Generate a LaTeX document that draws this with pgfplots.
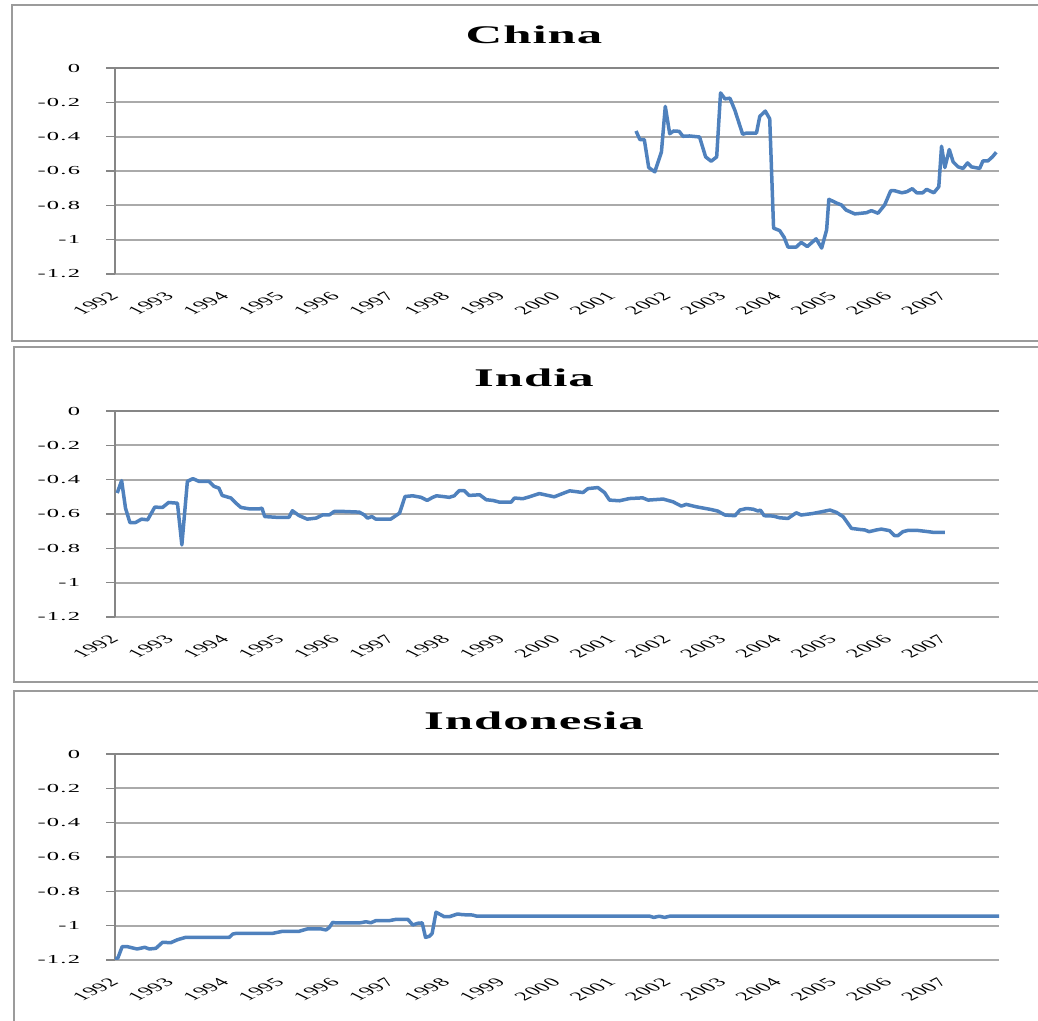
\documentclass[border=0pt]{standalone}
\usepackage{fontspec}
\setmainfont{Liberation Serif}
\newfontfamily\tickfont[LetterSpace=5]{Liberation Serif}
\newfontfamily\ytickfont[FakeStretch=2.0, LetterSpace=10]{Liberation Serif}
\newfontfamily\titlefont[FakeStretch=2.0, LetterSpace=4]{Liberation Serif}
\usepackage{graphicx}
\usepackage{pgfplots}
\pgfplotsset{compat=1.18}
\definecolor{excelblue}{RGB}{79,129,189}
\definecolor{framegray}{RGB}{155,155,155}
\definecolor{axisgray}{RGB}{134,134,134}
\definecolor{gridgray}{RGB}{170,170,170}
\newcommand\sxr[1]{\scalebox{2.0}[1]{\rotatebox{45}{#1}}}
\newcommand\yl[1]{\llap{#1}}

\pgfplotsset{panel/.style={
  scale only axis, width=884bp, height=206bp,
  xmin=1992, xmax=2008, ymin=-1.2, ymax=0,
  axis lines=left, axis line style={-},
  x axis line style={draw=none},
  y axis line style={draw=axisgray, line width=2.5bp},
  xtick={1992,...,2007},
  xticklabels={\sxr{1992},\sxr{1993},\sxr{1994},\sxr{1995},\sxr{1996},\sxr{1997},\sxr{1998},\sxr{1999},\sxr{2000},\sxr{2001},\sxr{2002},\sxr{2003},\sxr{2004},\sxr{2005},\sxr{2006},\sxr{2007}},
  xtick style={draw=none},
  ytick={-1.2,-1,-0.8,-0.6,-0.4,-0.2,0},
  yticklabels={\yl{-1.2},\yl{-1},\yl{-0.8},\yl{-0.6},\yl{-0.4},\yl{-0.2},\yl{0}},
  ytick style={draw=axisgray, line width=1.5bp},
  major tick length=9bp, tick align=outside,
  ymajorgrids, grid style={gridgray, line width=2bp},
  yticklabel style={font=\ytickfont\fontsize{12.3}{14}\selectfont, anchor=center, inner sep=0pt, xshift=-26bp},
  xticklabel style={font=\tickfont\fontsize{12.3}{14}\selectfont, anchor=north east, inner sep=0pt, yshift=-8bp, xshift=5bp},
}}
\tikzset{ser/.style={excelblue, line width=3.5bp, line join=round, no marks}}

\begin{document}
\begin{tikzpicture}
\useasboundingbox (0bp,0bp) rectangle (1038bp,1021bp);
% frames
\draw[framegray, line width=2bp] (12bp,1016bp) rectangle (1050bp,680bp);
\draw[framegray, line width=2bp] (14bp,674bp) rectangle (1050bp,339bp);
\draw[framegray, line width=2bp] (14bp,330bp) rectangle (1050bp,-20bp);
% titles
\node[font=\titlefont\bfseries\fontsize{25.5}{30}\selectfont] at (534bp,986bp) {China};
\node[font=\titlefont\bfseries\fontsize{25.5}{30}\selectfont] at (534bp,643bp) {India};
\node[font=\titlefont\bfseries\fontsize{25.5}{30}\selectfont] at (534bp,300bp) {Indonesia};

\begin{axis}[panel, at={(115bp,747bp)}, anchor=south west]
\draw[axisgray, line width=2.5bp] (axis cs:1992,0) -- (axis cs:2008,0);
\addplot[ser] coordinates {(2001.43,-0.367)(2001.50,-0.417)(2001.58,-0.417)(2001.66,-0.58)(2001.77,-0.605)(2001.89,-0.489)(2001.96,-0.224)(2002.04,-0.383)(2002.11,-0.367)(2002.21,-0.369)(2002.28,-0.398)(2002.40,-0.396)(2002.58,-0.402)(2002.69,-0.518)(2002.79,-0.543)(2002.89,-0.518)(2002.96,-0.145)(2003.04,-0.18)(2003.13,-0.176)(2003.22,-0.247)(2003.36,-0.386)(2003.43,-0.379)(2003.61,-0.379)(2003.67,-0.282)(2003.77,-0.251)(2003.85,-0.296)(2003.92,-0.933)(2004.03,-0.947)(2004.11,-0.986)(2004.18,-1.043)(2004.33,-1.043)(2004.42,-1.016)(2004.53,-1.04)(2004.69,-0.995)(2004.79,-1.049)(2004.88,-0.943)(2004.92,-0.765)(2005.07,-0.788)(2005.15,-0.798)(2005.23,-0.827)(2005.39,-0.85)(2005.60,-0.843)(2005.69,-0.831)(2005.81,-0.846)(2005.93,-0.798)(2006.04,-0.715)(2006.11,-0.715)(2006.24,-0.727)(2006.33,-0.721)(2006.43,-0.703)(2006.51,-0.727)(2006.62,-0.727)(2006.69,-0.707)(2006.82,-0.727)(2006.91,-0.692)(2006.96,-0.456)(2007.02,-0.58)(2007.10,-0.475)(2007.17,-0.547)(2007.26,-0.576)(2007.35,-0.585)(2007.43,-0.553)(2007.50,-0.576)(2007.65,-0.585)(2007.71,-0.541)(2007.80,-0.541)(2007.88,-0.518)(2007.95,-0.491)};
\end{axis}

\begin{axis}[panel, at={(115bp,404bp)}, anchor=south west]
\draw[axisgray, line width=2.5bp] (axis cs:1992,0) -- (axis cs:2008,0);
\addplot[ser] coordinates {(1992.04,-0.478)(1992.12,-0.406)(1992.19,-0.566)(1992.27,-0.650)(1992.37,-0.650)(1992.48,-0.630)(1992.59,-0.634)(1992.72,-0.560)(1992.86,-0.562)(1992.97,-0.533)(1993.13,-0.537)(1993.21,-0.780)(1993.31,-0.410)(1993.41,-0.394)(1993.52,-0.410)(1993.70,-0.410)(1993.79,-0.439)(1993.88,-0.449)(1993.94,-0.492)(1994.10,-0.507)(1994.19,-0.537)(1994.28,-0.562)(1994.43,-0.570)(1994.61,-0.570)(1994.66,-0.566)(1994.71,-0.615)(1994.91,-0.619)(1995.15,-0.619)(1995.21,-0.581)(1995.33,-0.609)(1995.48,-0.630)(1995.64,-0.624)(1995.76,-0.605)(1995.88,-0.605)(1995.97,-0.585)(1996.12,-0.585)(1996.42,-0.589)(1996.51,-0.605)(1996.57,-0.624)(1996.65,-0.615)(1996.72,-0.630)(1996.99,-0.630)(1997.15,-0.595)(1997.25,-0.498)(1997.39,-0.494)(1997.54,-0.503)(1997.65,-0.521)(1997.75,-0.503)(1997.82,-0.494)(1997.93,-0.498)(1998.05,-0.503)(1998.14,-0.494)(1998.23,-0.464)(1998.32,-0.464)(1998.41,-0.492)(1998.60,-0.488)(1998.72,-0.517)(1998.84,-0.521)(1998.96,-0.531)(1999.17,-0.531)(1999.23,-0.507)(1999.38,-0.511)(1999.50,-0.500)(1999.68,-0.481)(1999.95,-0.500)(2000.10,-0.481)(2000.23,-0.465)(2000.47,-0.475)(2000.56,-0.452)(2000.74,-0.446)(2000.86,-0.475)(2000.95,-0.519)(2001.13,-0.523)(2001.31,-0.510)(2001.55,-0.506)(2001.65,-0.519)(2001.92,-0.513)(2002.10,-0.529)(2002.25,-0.554)(2002.34,-0.544)(2002.52,-0.558)(2002.79,-0.574)(2002.91,-0.583)(2003.04,-0.606)(2003.22,-0.610)(2003.31,-0.577)(2003.43,-0.568)(2003.55,-0.572)(2003.64,-0.583)(2003.68,-0.577)(2003.75,-0.610)(2003.91,-0.612)(2004.03,-0.622)(2004.18,-0.626)(2004.33,-0.593)(2004.42,-0.606)(2004.63,-0.597)(2004.79,-0.587)(2004.94,-0.577)(2005.06,-0.591)(2005.18,-0.616)(2005.33,-0.684)(2005.48,-0.690)(2005.57,-0.693)(2005.65,-0.703)(2005.78,-0.693)(2005.87,-0.688)(2006.02,-0.697)(2006.11,-0.726)(2006.17,-0.726)(2006.26,-0.703)(2006.36,-0.695)(2006.51,-0.695)(2006.72,-0.703)(2006.81,-0.707)(2007.02,-0.707)};
\end{axis}

\begin{axis}[panel, at={(115bp,61bp)}, anchor=south west]
\draw[axisgray, line width=2.5bp] (axis cs:1992,0) -- (axis cs:2008,0);
\addplot[ser] coordinates {(1992.00,-1.19)(1992.05,-1.19)(1992.13,-1.122)(1992.22,-1.122)(1992.40,-1.136)(1992.54,-1.126)(1992.62,-1.136)(1992.74,-1.132)(1992.86,-1.097)(1993.01,-1.099)(1993.13,-1.082)(1993.28,-1.068)(1993.52,-1.068)(1994.07,-1.068)(1994.13,-1.049)(1994.19,-1.045)(1994.85,-1.045)(1995.03,-1.033)(1995.33,-1.033)(1995.48,-1.019)(1995.73,-1.019)(1995.82,-1.025)(1995.88,-1.010)(1995.94,-0.981)(1996.00,-0.984)(1996.45,-0.983)(1996.54,-0.977)(1996.63,-0.983)(1996.72,-0.971)(1996.96,-0.971)(1997.09,-0.963)(1997.30,-0.963)(1997.39,-0.996)(1997.48,-0.986)(1997.56,-0.984)(1997.62,-1.068)(1997.69,-1.062)(1997.74,-1.045)(1997.81,-0.922)(1997.87,-0.932)(1997.96,-0.948)(1998.05,-0.948)(1998.20,-0.932)(1998.29,-0.936)(1998.47,-0.938)(1998.54,-0.944)(2001.67,-0.944)(2001.75,-0.952)(2001.85,-0.945)(2001.95,-0.952)(2002.05,-0.944)(2008.00,-0.944)};
\end{axis}
\end{tikzpicture}
\end{document}
